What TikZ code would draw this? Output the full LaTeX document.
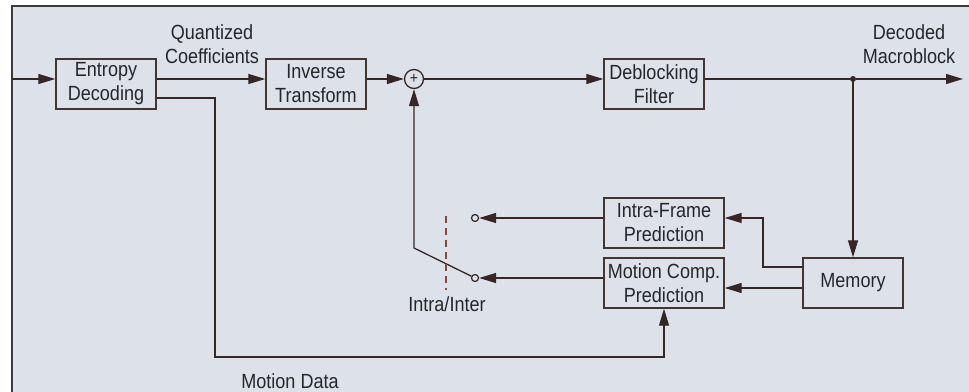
\documentclass[tikz,border=0pt]{standalone}
\usepackage{fontspec}
\setmainfont{Liberation Sans}[FakeStretch=0.88]
\usetikzlibrary{arrows.meta,calc}
\definecolor{bgc}{RGB}{221,226,234}
\definecolor{framec}{RGB}{60,60,62}
\definecolor{linec}{RGB}{55,38,36}
\definecolor{boxc}{RGB}{70,52,48}
\definecolor{textc}{RGB}{38,38,40}
\definecolor{dashc}{RGB}{140,70,55}
\begin{document}
\begin{tikzpicture}[x=1pt,y=-1pt,
  every node/.style={font=\fontsize{20.5}{24}\selectfont, text=textc},
  blockbox/.style={draw=boxc, line width=1.4pt, rectangle, align=center, inner sep=0pt,
    minimum width=100pt, minimum height=50pt},
  widebox/.style={blockbox, minimum width=120pt},
  conn/.style={draw=linec, line width=1.3pt},
  arr/.style={conn, -{Triangle[length=17pt,width=10pt]}},
  lbl/.style={align=center, inner sep=0pt},
  tapc/.style={circle, draw=linec, line width=1.2pt, minimum size=7pt, inner sep=0pt},
]
\useasboundingbox (0,0) rectangle (969,391);
\clip (0,0) rectangle (969,391);
\fill[bgc] (12,6) rectangle (990,410);
\draw[framec, line width=2pt] (990,6) -- (12,6) -- (12,410);

% nodes
\node[blockbox] (ent) at (106,84) {Entropy\\Decoding};
\node[blockbox] (inv) at (316,84) {Inverse\\Transform};
\node[circle, draw=linec, line width=1.3pt, minimum size=19pt, inner sep=0pt,
      font=\fontsize{16}{16}\selectfont] (sum) at (414,79) {+};
\node[blockbox] (deb) at (654,84) {Deblocking\\Filter};
\node[widebox] (intra) at (664,223) {Intra-Frame\\Prediction};
\node[widebox] (mc) at (664,283) {Motion Comp.\\Prediction};
\node[blockbox] (mem) at (853,283) {Memory};
\node[tapc] (s1) at (475,218) {};
\node[tapc] (s2) at (475,278) {};
\node[circle, fill=linec, minimum size=6pt, inner sep=0pt] (dot) at (853,79) {};

\coordinate (in) at (12,79);
\coordinate (out) at (963,79);
\coordinate (kink) at (414,248);
\coordinate (fbt) at (763,218);
\coordinate (md) at (215,357);
\coordinate (dtop) at (446,216);
\coordinate (dbot) at (446,290);

% labels
\node[lbl] (qc) at (212,44) {Quantized\\Coefficients};
\node[lbl] (dm) at (909,44) {Decoded\\Macroblock};
\node[lbl] (ii) at (447,304) {Intra/Inter};
\node[lbl] (mdl) at (290,381) {Motion Data};

% connectors
\draw[arr] (in) -- (ent.west |- in);
\draw[arr] (ent.east |- in) -- (inv.west |- in);
\draw[arr] (inv.east |- in) -- (sum);
\draw[arr] (sum) -- (deb.west |- sum);
\draw[conn] (deb.east |- sum) -- (dot);
\draw[arr] (dot) -- (out);
\draw[arr] (dot) -- (mem.north);
\draw[arr] ([yshift=16pt]mem.west) -| (fbt) -- ([yshift=5pt]intra.east);
\draw[arr] ([yshift=-5pt]mem.west) -- ([yshift=-5pt]mc.east);
\draw[arr] ([yshift=5pt]intra.west) -- (s1);
\draw[arr] ([yshift=5pt]mc.west) -- (s2);
\draw[arr] (s2) -- (kink) -- (sum);
\draw[arr] ([yshift=-14pt]ent.east) -| (md) -| (mc.south);
\draw[dashc, line width=1.3pt, dash pattern=on 7pt off 5pt] (dtop) -- (dbot);
\end{tikzpicture}
\end{document}
